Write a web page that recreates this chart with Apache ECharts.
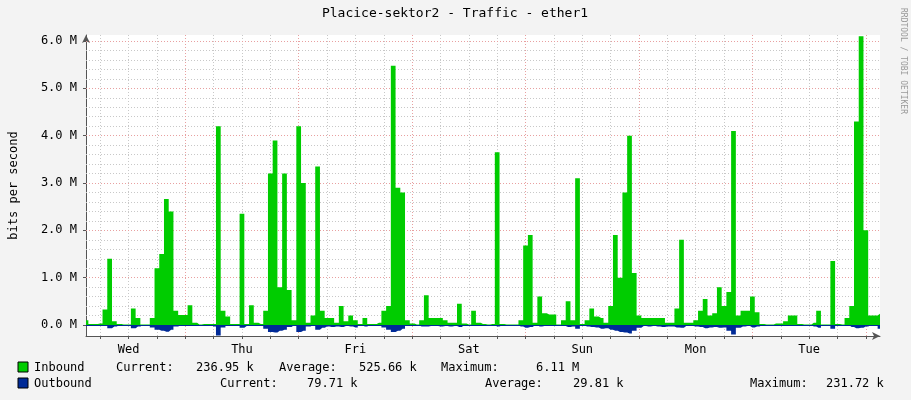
<!DOCTYPE html>
<html><head><meta charset="utf-8">
<script src="https://cdn.jsdelivr.net/npm/echarts@6/dist/echarts.min.js"></script>
<style>html,body{margin:0;padding:0;background:#f3f3f3}#c{width:911px;height:400px}</style>
</head><body><div id="c"></div>
<script>
// hours from Wednesday 00:00; first sample at hour 3, one sample per hour
const HOUR0 = 3;
const dayLabels = ['Wed','Thu','Fri','Sat','Sun','Mon','Tue'];
const dayLabelHours = [12,36,60,84,108,132,156];
const midnightHours = [24,48,72,96,120,144,168];
const yTickValues = [0,1,2,3,4,5,6];
const inboundM = [
0.1,0.02,0.02,0.03,0.33,1.4,0.08,0.02,0.01,0.01,0.35,0.15,
0.01,0.01,0.15,1.2,1.5,2.66,2.4,0.3,0.21,0.21,0.42,0.05,
0.01,0.02,0.02,0.02,4.2,0.3,0.18,0.02,0.02,2.35,0.02,0.42,
0.05,0.02,0.3,3.2,3.9,0.8,3.2,0.74,0.1,4.2,3.0,0.05,
0.2,3.35,0.3,0.15,0.15,0.05,0.4,0.08,0.2,0.1,0.02,0.15,
0.02,0.02,0.05,0.3,0.4,5.48,2.9,2.8,0.1,0.03,0.01,0.1,
0.63,0.15,0.15,0.15,0.1,0.05,0.05,0.45,0.03,0.01,0.3,0.05,
0.02,0.01,0.02,3.65,0.02,0.01,0.01,0.01,0.1,1.68,1.9,0.05,
0.6,0.25,0.22,0.22,0.01,0.1,0.5,0.1,3.1,0.02,0.1,0.35,
0.18,0.15,0.05,0.4,1.9,1.0,2.8,4.0,1.1,0.2,0.15,0.15,
0.15,0.15,0.15,0.05,0.05,0.35,1.8,0.05,0.05,0.1,0.3,0.55,
0.2,0.25,0.8,0.4,0.7,4.1,0.2,0.3,0.3,0.6,0.27,0.02,
0.01,0.01,0.03,0.03,0.08,0.2,0.2,0.02,0.01,0.01,0.05,0.3,
0.01,0.01,1.35,0.02,0.01,0.15,0.4,4.3,6.1,2.0,0.2,0.2,
0.24];
const outboundM = [
.005,.005,.005,.005,.02,.07,.03,.005,.005,.005,.07,.03,
.005,.005,.05,.1,.12,.14,.1,.03,.005,.005,.02,.005,
.005,.005,.005,.03,.22,.05,.005,.005,.005,.06,.02,.005,
.005,.005,.08,.15,.16,.12,.1,.04,.005,.15,.12,.03,
.005,.1,.06,.03,.04,.03,.04,.02,.03,.05,.005,.03,
.005,.005,.005,.05,.1,.15,.12,.08,.02,.005,.005,.03,
.03,.02,.02,.03,.02,.03,.02,.04,.005,.005,.02,.005,
.005,.005,.005,.03,.005,.005,.005,.005,.03,.06,.04,.005,
.03,.02,.005,.005,.005,.02,.04,.03,.08,.005,.03,.04,
.05,.08,.07,.1,.12,.15,.16,.18,.12,.06,.02,.03,
.02,.03,.04,.03,.03,.05,.06,.02,.02,.03,.04,.07,
.05,.04,.06,.05,.12,.2,.06,.03,.02,.05,.03,.005,
.005,.005,.005,.005,.02,.02,.005,.005,.005,.005,.03,.06,
.005,.005,.08,.005,.005,.005,.04,.07,.06,.03,.005,.005,
.08];
const legendRows = [
  [['Inbound',34],['Current:',116],['236.95 k',196],['Average:',279],['525.66 k',359],['Maximum:',441],['6.11 M',536]],
  [['Outbound',34],['Current:',220],['79.71 k',307],['Average:',485],['29.81 k',573],['Maximum:',750],['231.72 k',826]]
];

const X_MIN = 3, X_MAX = 171, Y_MIN = -0.232, Y_MAX = 6.127;
const mono = 'DejaVu Sans Mono';
const minorY = [], majorY = [], minorX = [];
for (let v = 0.2; v < 6.05; v += 0.2) { const r = Math.round(v*10)/10; if (Math.abs(r - Math.round(r)) > 0.01) minorY.push(r); }
yTickValues.forEach(v => { if (v > 0) majorY.push(v); });
for (let h = 6; h < X_MAX; h += 6) if (h % 24 !== 0) minorX.push(h);

const gray = {type:[1,2], color:'#c8c8c8', width:1};
const red = {type:[1,2], color:'#e8a0a0', width:1};
const gridLines = [];
minorY.forEach(v => gridLines.push({yAxis:v, lineStyle:gray}));
minorX.forEach(v => gridLines.push({xAxis:v, lineStyle:gray}));
majorY.forEach(v => gridLines.push({yAxis:v, lineStyle:red}));
midnightHours.forEach(v => gridLines.push({xAxis:v, lineStyle:red}));

const graphics = [];
const boxColors = ['#00cc00','#002a97'];
legendRows.forEach((row, r) => {
  const y = 368 + r*16;
  graphics.push({type:'rect', shape:{x:18,y:y-6,width:10,height:10}, style:{fill:boxColors[r], stroke:'#000', lineWidth:1}});
  row.forEach(([t,x]) => graphics.push({type:'text', x:x, y:y, style:{text:t, font:'12px '+mono, fill:'#000', textVerticalAlign:'middle'}}));
});
graphics.push({type:'text', x:455, y:14, style:{text:'Placice-sektor2 - Traffic - ether1', font:'13px '+mono, fill:'#000', textAlign:'center', textVerticalAlign:'middle'}});
graphics.push({type:'text', x:903, y:8, rotation:-Math.PI/2, style:{text:'RRDTOOL / TOBI OETIKER', font:'8px '+mono, fill:'#999', textVerticalAlign:'middle'}});

const chart = echarts.init(document.getElementById('c'));
chart.setOption({
  backgroundColor:'#f3f3f3',
  animation:false,
  grid:{left:81, right:31, top:35, bottom:64, show:true, backgroundColor:'#fff', borderWidth:0},
  xAxis:{type:'value', min:X_MIN, max:X_MAX, splitLine:{show:false},
    axisLine:{onZero:false, lineStyle:{color:'#555'}, symbol:['none','arrow'], symbolSize:[6,8]},
    axisTick:{customValues:minorX.concat(midnightHours).filter(h=>h<X_MAX), length:3, inside:false, lineStyle:{color:'#555'}},
    axisLabel:{customValues:dayLabelHours, formatter:v=>dayLabels[dayLabelHours.indexOf(v)], color:'#000', fontFamily:mono, fontSize:12, margin:8}},
  yAxis:{type:'value', min:Y_MIN, max:Y_MAX, splitLine:{show:false},
    name:'bits per second', nameLocation:'middle', nameGap:66, nameTextStyle:{fontFamily:mono, fontSize:12, color:'#000'},
    axisLine:{show:true, lineStyle:{color:'#555'}, symbol:['none','arrow'], symbolSize:[6,8]},
    axisTick:{customValues:yTickValues, length:3, lineStyle:{color:'#555'}},
    axisLabel:{customValues:yTickValues, formatter:v=>v.toFixed(1)+' M', color:'#000', fontFamily:mono, fontSize:12, margin:9}},
  graphic:graphics,
  series:[
    {type:'line', silent:true, z:1, data:[], markLine:{silent:true, z:1, symbol:'none', label:{show:false}, data:gridLines}},
    {type:'line', z:3, step:'middle', symbol:'none', data:inboundM.map((v,i)=>[HOUR0+i,v]),
      lineStyle:{width:0}, areaStyle:{color:'#00cc00', opacity:1}},
    {type:'line', z:3, step:'middle', symbol:'none', data:outboundM.map((v,i)=>[HOUR0+i,-v]),
      lineStyle:{width:0}, areaStyle:{color:'#002a97', opacity:1}},
    {type:'line', z:4, silent:true, data:[], markLine:{silent:true, symbol:'none', label:{show:false}, data:[{yAxis:0, lineStyle:{type:'solid', color:'#002a97', width:1}}]}}
  ]
});
</script></body></html>
